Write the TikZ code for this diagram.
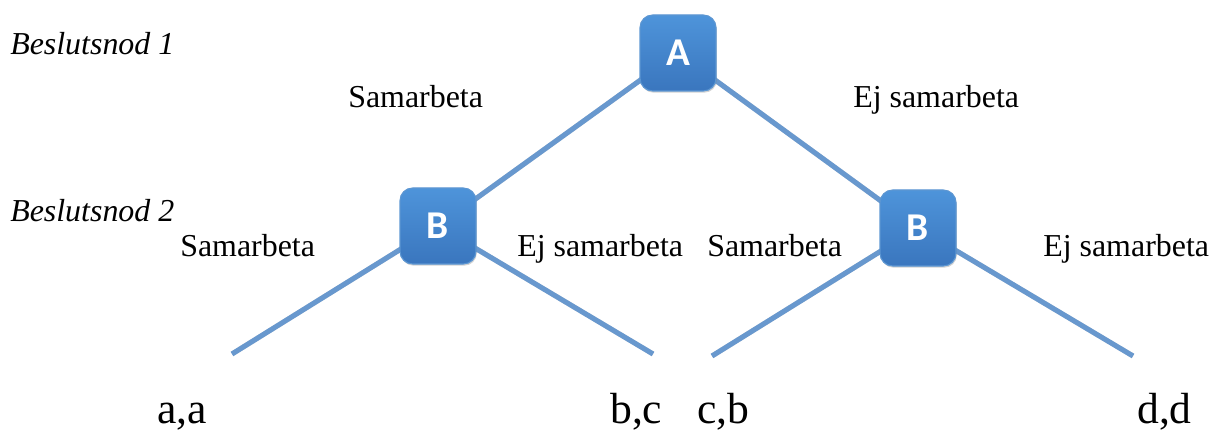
\documentclass[tikz,border=0pt]{standalone}
\usepackage{fontspec}
\setmainfont{Liberation Serif}
\newfontfamily\boxfont{Carlito}
\usetikzlibrary{shadows}
\definecolor{linec}{RGB}{104,152,206}
\definecolor{boxtop}{RGB}{78,148,218}
\definecolor{boxbot}{RGB}{58,118,190}
\definecolor{boxedge}{RGB}{92,150,210}
\tikzset{
  dnode/.style={rounded corners=9pt, minimum width=76*0.025cm, minimum height=76*0.025cm,
    top color=boxtop, bottom color=boxbot, draw=boxedge, line width=0.8pt,
    text=white, font=\boxfont\bfseries\fontsize{28}{30}\selectfont,
    drop shadow={shadow xshift=0.6pt, shadow yshift=-1.2pt, opacity=0.35}},
  branch/.style={draw=linec, line width=3.6pt},
  lbl/.style={anchor=base west, inner sep=0pt, font=\rmfamily\fontsize{22.7}{24}\selectfont},
  ttl/.style={anchor=base west, inner sep=0pt, font=\rmfamily\itshape\fontsize{22.7}{24}\selectfont},
  pay/.style={anchor=base west, inner sep=0pt, font=\rmfamily\fontsize{31}{33}\selectfont}
}
\begin{document}
\begin{tikzpicture}[x=0.025cm,y=-0.025cm]
\useasboundingbox (0,0) rectangle (1214,432);
% coordinates
\coordinate (cA) at (678,53);
\coordinate (cB1) at (438,226);
\coordinate (cB2) at (918,228);
\coordinate (l1) at (232,354);
\coordinate (l2) at (653,354);
\coordinate (l3) at (712,356);
\coordinate (l4) at (1133,356);
% shadows of branches
\begin{scope}[opacity=0.15, shift={(1,2)}]
\draw[line width=3.6pt, black] (cA) -- (cB1) -- (l1);
\draw[line width=3.6pt, black] (cB1) -- (l2);
\draw[line width=3.6pt, black] (cA) -- (cB2) -- (l3);
\draw[line width=3.6pt, black] (cB2) -- (l4);
\end{scope}
\draw[branch] (cA) -- (cB1);
\draw[branch] (cA) -- (cB2);
\draw[branch] (cB1) -- (l1);
\draw[branch] (cB1) -- (l2);
\draw[branch] (cB2) -- (l3);
\draw[branch] (cB2) -- (l4);
% decision nodes
\node[dnode] (A) at (cA) {A};
\node[dnode] (B1) at (cB1) {B};
\node[dnode] (B2) at (cB2) {B};
% titles
\node[ttl] (t1) at (10,55) {Beslutsnod 1};
\node[ttl] (t2) at (10,222) {Beslutsnod 2};
% labels
\node[lbl] (s1) at (348,108) {Samarbeta};
\node[lbl] (e1) at (853,108) {Ej samarbeta};
\node[lbl] (s2) at (180,257) {Samarbeta};
\node[lbl] (e2) at (517,257) {Ej samarbeta};
\node[lbl] (s3) at (707,257) {Samarbeta};
\node[lbl] (e3) at (1043,257) {Ej samarbeta};
% payoffs
\node[pay] (p1) at (157,423) {a,a};
\node[pay] (p2) at (610,423) {b,c};
\node[pay] (p3) at (697,423) {c,b};
\node[pay] (p4) at (1137,423) {d,d};
\end{tikzpicture}
\end{document}
